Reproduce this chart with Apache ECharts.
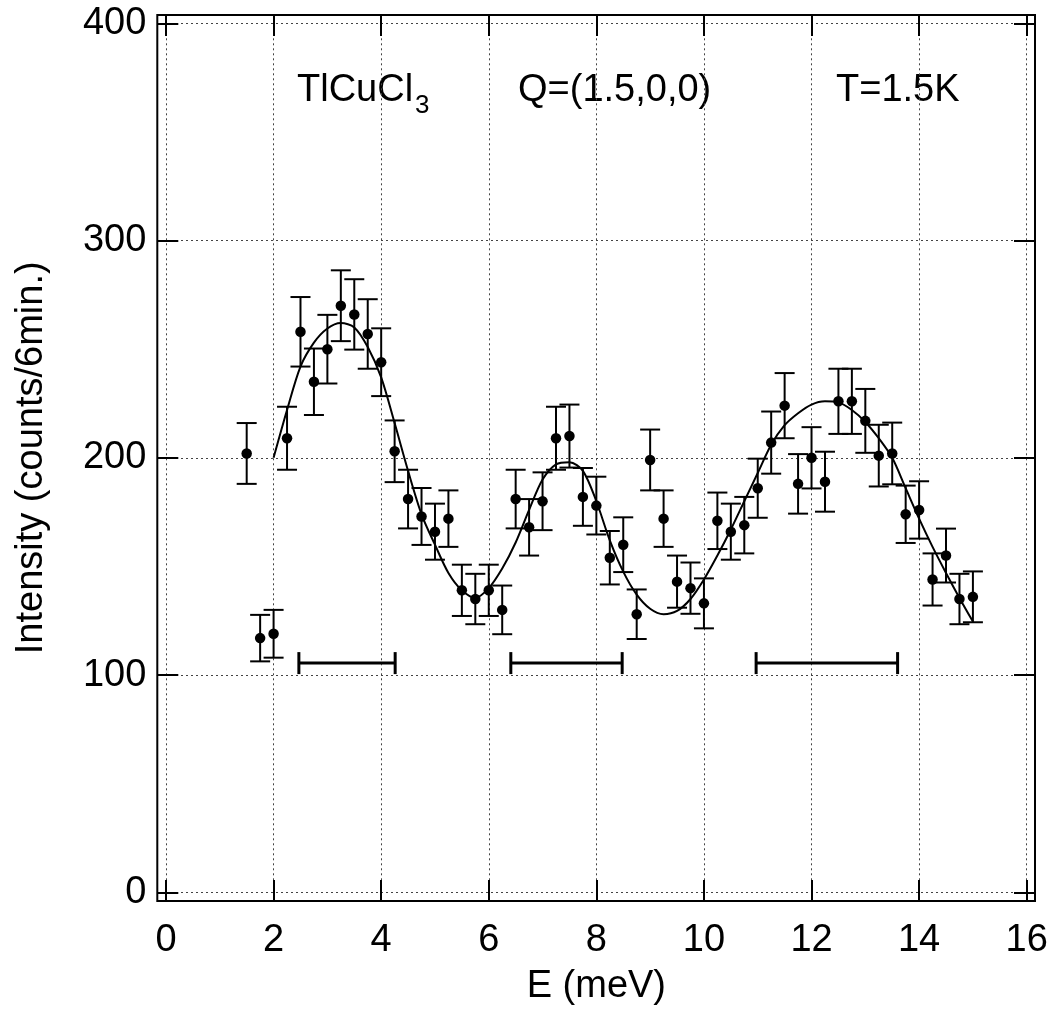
<!DOCTYPE html>
<html>
<head>
<meta charset="utf-8">
<script src="https://cdn.jsdelivr.net/npm/echarts@6/dist/echarts.min.js"></script>
<style>
html,body{margin:0;padding:0;background:#ffffff;}
#chart{width:1053px;height:1034px;}
</style>
</head>
<body>
<div id="chart"></div>
<script>
// ---- data ----
const energy = [1.5,1.75,2.0,2.25,2.5,2.75,3.0,3.25,3.5,3.75,
                4.0,4.25,4.5,4.75,5.0,5.25,5.5,5.75,6.0,6.25,
                6.5,6.75,7.0,7.25,7.5,7.75,8.0,8.25,8.5,8.75,
                9.0,9.25,9.5,9.75,10.0,10.25,10.5,10.75,11.0,11.25,
                11.5,11.75,12.0,12.25,12.5,12.75,13.0,13.25,13.5,13.75,
                14.0,14.25,14.5,14.75,15.0];
const intensity = [202,117,119,209,258,235,250,270,266,257,
                   244,203,181,173,166,172,139,135,139,130,
                   181,168,180,209,210,182,178,154,160,128,
                   199,172,143,140,133,171,166,169,186,207,
                   224,188,200,189,226,226,217,201,202,174,
                   176,144,155,135,136];
const errors = [14,10.7,11,14.5,16,15.3,15.8,16.3,16.2,16,
                15.6,14.2,13.5,13.1,12.9,13,11.8,11.6,11.8,11.2,
                13.5,13,13.3,14.5,14.5,13.3,13.3,12.3,12.6,11.4,
                14,13,12,11.8,11.5,13,12.9,13,13.6,14.3,
                15,13.7,14.1,13.8,15,15,14.7,14.2,14.2,13.2,
                13.2,12,12.4,11.6,11.7];
// fitted curve
const fitE = [2.0,2.25,2.5,2.75,3.0,3.25,3.5,3.75,4.0,4.25,
              4.5,4.75,5.0,5.25,5.5,5.75,6.0,6.25,6.5,6.75,
              7.0,7.25,7.5,7.75,8.0,8.25,8.5,8.75,9.0,9.25,
              9.5,9.75,10.0,10.25,10.5,10.75,11.0,11.25,11.5,11.75,
              12.0,12.25,12.5,12.75,13.0,13.25,13.5,13.75,14.0,14.25,
              14.5,14.75,15.0];
const fitI = [200,222,242,253,259.5,262,260,251,237,216,
              194,174,160,147,139,135.5,140,149,161,176,
              190,197,198,194,180,162,147.6,137,130.5,128,
              129.5,135,144,155,167,180,193,206,215,220.5,
              224.5,226,225.5,222,216.5,209,200,186,172,159,
              147,135.5,124.6];
// instrumental resolution bars
const resStart = [2.47, 6.41, 10.97];
const resEnd   = [4.26, 8.48, 13.6];
const resLevel = [105.5, 105.5, 105.5];
// axis ticks
const xMin = 0, xMax = 16, xStep = 2;
const yMin = 0, yMax = 400, yStep = 100;

const FONT = '"Liberation Sans", Arial, Helvetica, sans-serif';

const chart = echarts.init(document.getElementById('chart'), null, {renderer:'canvas'});

const tickStyle = {color:'#000', width:2};
const gridLine = {show:true, lineStyle:{color:'#444', width:1, type:[2,3]}};
const noLine = {show:false, onZero:false};

const option = {
  animation:false,
  backgroundColor:'#ffffff',
  grid:[
    {left:166, right:26.3, top:23.3, bottom:141.7, show:false},
    {left:157.3, right:18, top:15, bottom:133, show:true, borderColor:'#000', borderWidth:2, backgroundColor:'transparent'}
  ],
  xAxis:[
    {gridIndex:0, type:'value', min:xMin, max:xMax, interval:xStep, position:'bottom', offset:8.7,
     axisLine:noLine, axisTick:{show:true, inside:true, length:21, lineStyle:tickStyle},
     axisLabel:{show:true, fontSize:38, color:'#000', fontFamily:FONT, margin:21},
     splitLine:gridLine,
     name:'E (meV)', nameLocation:'middle', nameGap:67,
     nameTextStyle:{fontSize:38, color:'#000', fontFamily:FONT}},
    {gridIndex:0, type:'value', min:xMin, max:xMax, interval:xStep, position:'top', offset:8.3,
     axisLine:noLine, axisTick:{show:true, inside:true, length:21, lineStyle:tickStyle},
     axisLabel:{show:false}, splitLine:{show:false}}
  ],
  yAxis:[
    {gridIndex:0, type:'value', min:yMin, max:yMax, interval:yStep, position:'left', offset:8.7,
     axisLine:noLine, axisTick:{show:true, inside:true, length:21, lineStyle:tickStyle},
     axisLabel:{show:true, fontSize:38, color:'#000', fontFamily:FONT, margin:11},
     splitLine:gridLine,
     name:'Intensity (counts/6min.)', nameLocation:'middle', nameGap:107,
     nameTextStyle:{fontSize:38, color:'#000', fontFamily:FONT}},
    {gridIndex:0, type:'value', min:yMin, max:yMax, interval:yStep, position:'right', offset:8.3,
     axisLine:noLine, axisTick:{show:true, inside:true, length:21, lineStyle:tickStyle},
     axisLabel:{show:false}, splitLine:{show:false}}
  ],
  graphic:[
    {type:'text', x:297, y:91, style:{text:'TlCuCl', font:'38px ' + FONT, fill:'#000', verticalAlign:'middle', align:'left'}},
    {type:'text', x:415, y:106, style:{text:'3', font:'26px ' + FONT, fill:'#000', verticalAlign:'middle', align:'left'}},
    {type:'text', x:518, y:91, style:{text:'Q=(1.5,0,0)', font:'38px ' + FONT, fill:'#000', verticalAlign:'middle', align:'left'}},
    {type:'text', x:836, y:91, style:{text:'T=1.5K', font:'38px ' + FONT, fill:'#000', verticalAlign:'middle', align:'left'}}
  ],
  series:[
    {
      type:'line', xAxisIndex:0, yAxisIndex:0,
      data: fitE.map((e,i)=>[e, fitI[i]]),
      showSymbol:false, smooth:0.3,
      lineStyle:{color:'#000', width:2}, z:3, silent:true
    },
    {
      type:'custom', xAxisIndex:0, yAxisIndex:0,
      data: energy.map((e,i)=>[e, intensity[i], errors[i]]),
      encode:{x:0, y:1},
      renderItem:function(params, api){
        const x = api.value(0), y = api.value(1), e = api.value(2);
        const top = api.coord([x, y + e]);
        const bot = api.coord([x, y - e]);
        const hw = 10;
        const st = {stroke:'#000', lineWidth:2, fill:null};
        return {type:'group', children:[
          {type:'line', shape:{x1:top[0], y1:top[1], x2:bot[0], y2:bot[1]}, style:st},
          {type:'line', shape:{x1:top[0]-hw, y1:top[1], x2:top[0]+hw, y2:top[1]}, style:st},
          {type:'line', shape:{x1:bot[0]-hw, y1:bot[1], x2:bot[0]+hw, y2:bot[1]}, style:st}
        ]};
      },
      z:4, silent:true
    },
    {
      type:'scatter', xAxisIndex:0, yAxisIndex:0,
      data: energy.map((e,i)=>[e, intensity[i]]),
      symbol:'circle', symbolSize:10.5,
      itemStyle:{color:'#000', opacity:1}, z:5, silent:true
    },
    {
      type:'custom', xAxisIndex:0, yAxisIndex:0,
      data: resStart.map((s,i)=>[s, resEnd[i], resLevel[i]]),
      encode:{x:[0,1], y:2},
      renderItem:function(params, api){
        const a = api.coord([api.value(0), api.value(2)]);
        const b = api.coord([api.value(1), api.value(2)]);
        const h = 11;
        const st = {stroke:'#000', lineWidth:3, fill:null};
        return {type:'group', children:[
          {type:'line', shape:{x1:a[0], y1:a[1], x2:b[0], y2:b[1]}, style:st},
          {type:'line', shape:{x1:a[0], y1:a[1]-h, x2:a[0], y2:a[1]+h}, style:st},
          {type:'line', shape:{x1:b[0], y1:b[1]-h, x2:b[0], y2:b[1]+h}, style:st}
        ]};
      },
      z:4, silent:true
    }
  ]
};
chart.setOption(option);
</script>
</body>
</html>
